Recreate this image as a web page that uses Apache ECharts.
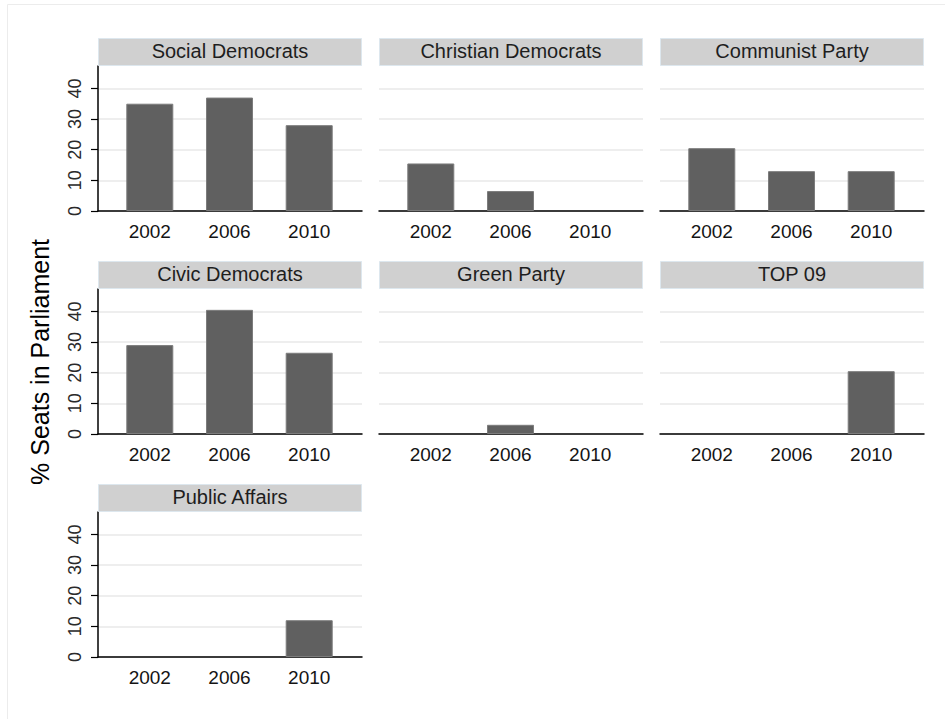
<!DOCTYPE html>
<html>
<head>
<meta charset="utf-8">
<script src="https://cdn.jsdelivr.net/npm/echarts@6/dist/echarts.min.js"></script>
<style>
html,body{margin:0;padding:0;background:#fff;}
#main{width:945px;height:719px;}
</style>
</head>
<body>
<div id="main"></div>
<script>
// ---- data ----
const years = [2002, 2006, 2010];
const parties = ['Social Democrats', 'Christian Democrats', 'Communist Party',
                 'Civic Democrats', 'Green Party', 'TOP 09', 'Public Affairs'];
const socialDemocrats    = [35, 37, 28];
const christianDemocrats = [15.5, 6.5, 0];
const communistParty     = [20.5, 13, 13];
const civicDemocrats     = [29, 40.5, 26.5];
const greenParty         = [0, 3, 0];
const top09              = [0, 0, 20.5];
const publicAffairs      = [0, 0, 12];
const yTicks = [0, 10, 20, 30, 40];
const yTitle = '% Seats in Parliament';

const seriesValues = [socialDemocrats, christianDemocrats, communistParty,
                      civicDemocrats, greenParty, top09, publicAffairs];

// ---- layout ----
const FONT = '"Liberation Sans", Arial, sans-serif';
const colX = [98, 379, 660];
const rowTop = [38, 261, 484];
const panelW = 264, headerH = 28, plotH = 145;

const grids = [], xAxes = [], yAxes = [], series = [], graphics = [];

graphics.push({
  type: 'rect', shape: {x: 7.5, y: 4.5, width: 1000, height: 1000},
  style: {fill: 'none', stroke: '#ececec', lineWidth: 1}, z: 0
});

parties.forEach((name, i) => {
  const c = i % 3, r = Math.floor(i / 3);
  const left = colX[c], top = rowTop[r] + headerH;
  grids.push({left: left, top: top, width: panelW, height: plotH});
  xAxes.push({
    type: 'value', gridIndex: i, min: 1999.4, max: 2012.65,
    axisLine: {show: true, onZero: false, lineStyle: {color: '#000', width: 1.5}},
    axisTick: {show: false},
    splitLine: {show: false},
    axisLabel: {
      customValues: years, margin: 11, formatter: v => String(v),
      color: '#141414', fontSize: 19, fontFamily: FONT
    }
  });
  const first = c === 0;
  yAxes.push({
    type: 'value', gridIndex: i, min: 0, max: 47.3,
    axisLine: {show: first, lineStyle: {color: '#000', width: 1.5}},
    axisTick: {show: first, customValues: yTicks, length: 7, lineStyle: {color: '#000', width: 1.2}},
    axisLabel: {
      show: first, customValues: yTicks, rotate: 90, margin: 14,
      color: '#2a2a2a', fontSize: 18, fontFamily: FONT
    },
    splitLine: {show: true, lineStyle: {color: '#e9e9e9', width: 1.5}}
  });
  series.push({
    type: 'bar', xAxisIndex: i, yAxisIndex: i, barWidth: 47,
    itemStyle: {color: '#606060', borderColor: '#7c7c7c', borderWidth: 1},
    silent: true,
    data: years.map((y, k) => [y, seriesValues[i][k] === 0 ? null : seriesValues[i][k]])
  });
  graphics.push({
    type: 'rect', shape: {x: left + 0.5, y: rowTop[r] + 0.5, width: panelW - 1, height: headerH - 1},
    style: {fill: '#d0d0d0', stroke: '#dde7ee', lineWidth: 1}, z: 10
  });
  graphics.push({
    type: 'text', x: left + panelW / 2, y: rowTop[r] + headerH / 2 - 1.5, z: 11,
    style: {text: name, fill: '#1e1e1e', font: '20px ' + FONT, align: 'center', verticalAlign: 'middle'}
  });
});

graphics.push({
  type: 'text', x: 40, y: 362, rotation: Math.PI / 2, z: 11,
  style: {text: yTitle, fill: '#000', font: '25px ' + FONT, align: 'center', verticalAlign: 'middle'}
});

const chart = echarts.init(document.getElementById('main'), null, {renderer: 'svg'});
chart.setOption({
  animation: false,
  backgroundColor: '#fff',
  grid: grids, xAxis: xAxes, yAxis: yAxes, series: series,
  graphic: graphics
});
</script>
</body>
</html>
